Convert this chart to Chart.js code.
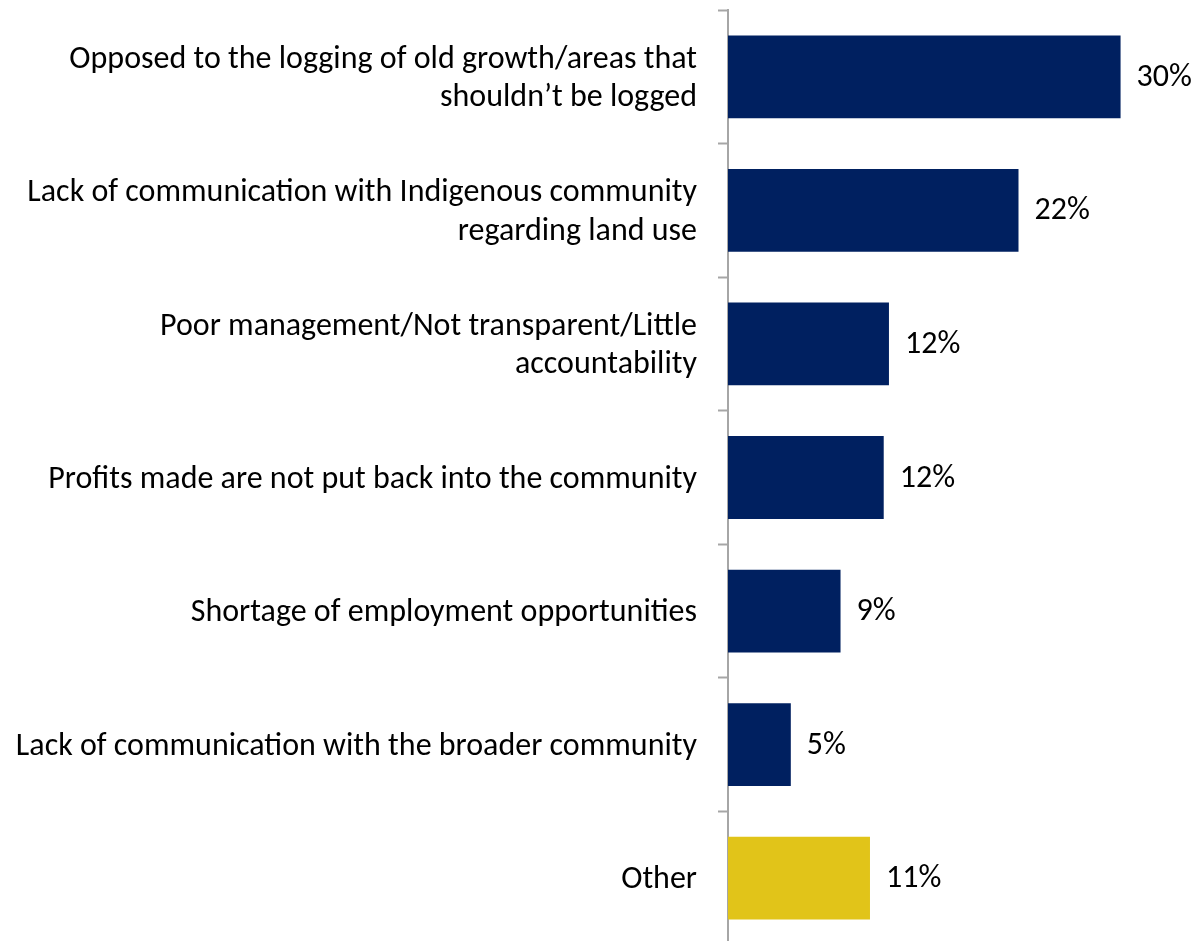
<!DOCTYPE html>
<html>
<head>
<meta charset="utf-8">
<script src="https://cdn.jsdelivr.net/npm/chart.js@4/dist/chart.umd.min.js"></script>
<style>
html,body{margin:0;padding:0;background:#fff;overflow:hidden;}
#wrap{width:1198px;height:945px;position:relative;}
</style>
</head>
<body>
<div id="wrap"><canvas id="c" width="1198" height="945"></canvas></div>
<script>
const categories = [
  ["Opposed to the logging of old growth/areas that", "shouldn\u2019t be logged"],
  ["Lack of communication with Indigenous community", "regarding land use"],
  ["Poor management/Not transparent/Little", "accountability"],
  "Profits made are not put back into the community",
  "Shortage of employment opportunities",
  "Lack of communication with the broader community",
  "Other"
];
const values = [30.0, 22.2, 12.3, 11.9, 8.6, 4.8, 10.85];
const barColors = ["#002060", "#002060", "#002060", "#002060", "#002060", "#002060", "#E1C419"];
const FONT = "Carlito, Lato, 'Open Sans', sans-serif";
const FSIZE = 32;

const valueLabels = {
  id: 'valueLabels',
  afterDatasetsDraw(chart) {
    const ctx = chart.ctx;
    const meta = chart.getDatasetMeta(0);
    ctx.save();
    ctx.font = FSIZE + "px " + FONT;
    ctx.fillStyle = "#000";
    ctx.textAlign = "left";
    ctx.textBaseline = "middle";
    meta.data.forEach((bar, i) => {
      ctx.fillText(Math.round(values[i]) + "%", bar.x + 16, bar.y + 1);
    });
    ctx.restore();
  }
};

new Chart(document.getElementById('c'), {
  type: 'bar',
  data: {
    labels: categories,
    datasets: [{
      data: values,
      backgroundColor: barColors,
      borderWidth: 0,
      categoryPercentage: 0.62,
      barPercentage: 1.0
    }]
  },
  options: {
    indexAxis: 'y',
    responsive: false,
    animation: false,
    devicePixelRatio: 1,
    layout: { padding: { top: 10, right: 12, bottom: 0, left: 0 } },
    plugins: { legend: { display: false }, tooltip: { enabled: false } },
    scales: {
      x: { display: false, min: 0, max: 35 },
      y: {
        afterFit(scale) { scale.width = 728; scale.paddingTop = 0; scale.paddingBottom = 0; },
        border: { display: true, color: '#A6A6A6', width: 2 },
        grid: { offset: true, drawOnChartArea: false, drawTicks: true, tickLength: 10, color: '#A6A6A6', tickWidth: 2 },
        ticks: {
          padding: 21,
          labelOffset: 2,
          color: '#000',
          font: { family: FONT, size: FSIZE, lineHeight: 1.2 },
          crossAlign: 'near'
        }
      }
    }
  },
  plugins: [valueLabels]
});
</script>
</body>
</html>
